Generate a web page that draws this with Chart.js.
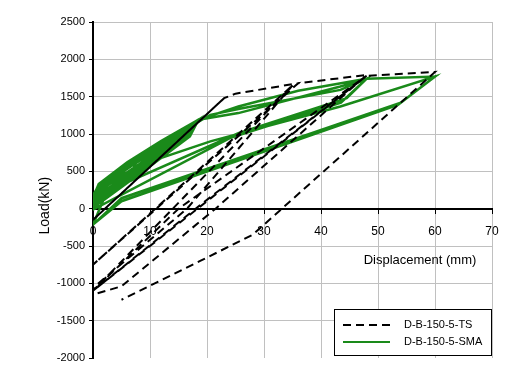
<!DOCTYPE html>
<html>
<head>
<meta charset="utf-8">
<script src="https://cdn.jsdelivr.net/npm/chart.js@4.4.1/dist/chart.umd.min.js"></script>
<style>
  html, body { margin: 0; padding: 0; background: #fff; }
</style>
</head>
<body>
<canvas id="hystCanvas" width="515" height="375"></canvas>
<script>
// axis setup
var xTicks = [0, 10, 20, 30, 40, 50, 60, 70];
var yTicks = [-2000, -1500, -1000, -500, 0, 500, 1000, 1500, 2000, 2500];
var xTitle = 'Displacement (mm)';
var yTitle = 'Load(kN)';
var seriesNames = ['D-B-150-5-TS', 'D-B-150-5-SMA'];

// D-B-150-5-TS (mm, kN), in loading order
var tsDisp = [0, 23, 0, 23, 25, 36, 0, 35, 0, 36, 48, 21.5, 5, 0,
              0, 16.5, 35, 0, 15, 48, 0, 18, 48, 60, 28, 18.8, 5];
var tsLoad = [-150, 1480, -150, 1480, 1540, 1680, -750, 1650, -750, 1680, 1790, 0, -1040, -1150,
              -1060, 0, 1650, -1100, 0, 1780, -1100, 0, 1780, 1830, -350, -700, -1220];

// D-B-150-5-SMA: small cycles first (the thick band), then the 48 mm and 60 mm cycles
var smaDisp = [0, 1, 6, 12, 18.5, 17, 10, 0,
               0, 1, 6, 12, 18, 16.5, 8, 0,
               0, 1, 6, 12, 16, 14.5, 6, 0,
               0, 1, 6, 10, 14, 12.5, 5, 0,
               0, 1, 5, 12, 10.5, 4, 0,
               0, 1, 5, 10, 8.5, 3, 0,
               0, 1, 4, 8, 6.5, 2, 0,
               0, 1, 3, 6, 4.5, 0,
               0, 1, 6, 12, 18, 16.5, 8, 0,
               0, 1, 6, 12, 17, 15.5, 7, 0,
               0, 1, 6, 12, 18.5, 17, 9, 0,
               0, 1, 5, 10, 15, 13.5, 6, 0,
               0, 1, 6, 12, 18.5, 17, 10, 0,
               0, 1, 6, 12, 18.5, 25.5, 36, 48, 43.5, 24, 0,
               1, 5, 10, 15, 20.6, 25.5, 43.4, 48, 44.5, 25.5, 0,
               1, 6, 12, 18.5, 25.5, 43.4, 48, 60, 54, 5, 0,
               2, 5, 12, 20.6, 43.4, 60, 53.5, 5, 0];
var smaLoad = [10, 320, 610, 900, 1190, 968, 567, 10,
               40, 300, 590, 890, 1170, 940, 480, 40,
               60, 290, 580, 870, 1070, 830, 370, 60,
               30, 280, 570, 790, 980, 720, 310, 30,
               80, 270, 530, 890, 620, 260, 80,
               50, 250, 520, 800, 500, 190, 50,
               100, 260, 470, 700, 420, 160, 100,
               20, 240, 420, 600, 300, 20,
               130, 300, 560, 840, 1150, 1000, 560, 130,
               90, 280, 540, 820, 1080, 920, 480, 90,
               180, 310, 600, 860, 1190, 1050, 640, 180,
               60, 260, 480, 740, 1000, 800, 420, 60,
               150, 330, 620, 910, 1190, 1000, 620, 120,
               120, 330, 620, 910, 1190, 1369, 1580, 1740, 1420, 945, -13,
               200, 480, 760, 1010, 1257, 1335, 1591, 1740, 1480, 1010, 150,
               330, 620, 910, 1190, 1280, 1636, 1740, 1770, 1420, 140, -214,
               150, 380, 680, 901, 1369, 1770, 1390, 100, -214];

function toPoints(xs, ys) {
    var pts = [];
    for (var i = 0; i < xs.length; i++) {
        pts.push({x: xs[i], y: ys[i]});
    }
    return pts;
}

var fontFamily = 'Arial, "Liberation Sans", sans-serif';
var gridGray = '#c0c0c0';

// axis titles and boxed legend, drawn Excel style inside the plot
var extrasPlugin = {
    id: 'extras',
    afterDraw: function(chart) {
        var ctx = chart.ctx;
        var area = chart.chartArea;
        var zeroY = chart.scales.y.getPixelForValue(0);
        ctx.save();
        ctx.fillStyle = '#000';
        ctx.font = '13px ' + fontFamily;
        ctx.textAlign = 'center';
        ctx.textBaseline = 'middle';
        ctx.fillText(xTitle, area.right - 72, zeroY + 52);

        ctx.save();
        ctx.translate(45, zeroY - 3);
        ctx.rotate(-Math.PI / 2);
        ctx.font = '14px ' + fontFamily;
        ctx.fillText(yTitle, 0, 0);
        ctx.restore();

        // legend box
        var bx = area.right - 158, by = area.bottom - 49, bw = 158, bh = 47;
        ctx.fillStyle = '#fff';
        ctx.fillRect(bx, by, bw, bh);
        ctx.strokeStyle = '#000';
        ctx.lineWidth = 1;
        ctx.strokeRect(bx + 0.5, by + 0.5, bw - 1, bh - 1);
        ctx.font = '11px ' + fontFamily;
        ctx.textAlign = 'left';
        chart.data.datasets.forEach(function(ds, i) {
            var ly = by + 16 + i * 17;
            ctx.strokeStyle = ds.borderColor;
            ctx.lineWidth = 2;
            ctx.setLineDash(ds.borderDash || []);
            ctx.beginPath();
            ctx.moveTo(bx + 9, ly);
            ctx.lineTo(bx + 56, ly);
            ctx.stroke();
            ctx.setLineDash([]);
            ctx.fillStyle = '#000';
            ctx.fillText(ds.label, bx + 70, ly);
        });
        ctx.restore();
    }
};

var ctx = document.getElementById('hystCanvas').getContext('2d');
window.hystChart = new Chart(ctx, {
    type: 'scatter',
    data: {
        datasets: [{
            label: seriesNames[0],
            data: toPoints(tsDisp, tsLoad),
            showLine: true,
            borderColor: '#000',
            borderWidth: 2,
            borderDash: [8, 5],
            pointRadius: 0,
            tension: 0
        }, {
            label: seriesNames[1],
            data: toPoints(smaDisp, smaLoad),
            showLine: true,
            borderColor: '#1a8a1a',
            borderWidth: 2.5,
            pointRadius: 0,
            tension: 0
        }]
    },
    options: {
        responsive: false,
        animation: false,
        layout: {
            padding: {left: 0, top: 22, right: 23, bottom: 17}
        },
        plugins: {
            legend: {display: false},
            tooltip: {enabled: false}
        },
        scales: {
            x: {
                type: 'linear',
                position: {y: 0},
                min: xTicks[0],
                max: xTicks[xTicks.length - 1],
                afterFit: function(scale) { scale.height = 0; },
                afterBuildTicks: function(scale) {
                    scale.ticks = xTicks.map(function(v) { return {value: v}; });
                },
                ticks: {
                    autoSkip: false,
                    maxRotation: 0,
                    padding: 12,
                    color: '#000',
                    font: {family: '"Liberation Sans Narrow", ' + fontFamily, size: 12},
                    callback: function(v) { return String(v); }
                },
                grid: {
                    color: gridGray,
                    lineWidth: 1,
                    tickLength: 4,
                    tickColor: '#000'
                },
                border: {color: '#000', width: 2}
            },
            y: {
                type: 'linear',
                min: yTicks[0],
                max: yTicks[yTicks.length - 1],
                afterFit: function(scale) { scale.width = 93; },
                afterBuildTicks: function(scale) {
                    scale.ticks = yTicks.map(function(v) { return {value: v}; });
                },
                ticks: {
                    autoSkip: false,
                    padding: 4,
                    color: '#000',
                    font: {family: fontFamily, size: 11},
                    callback: function(v) { return String(v); }
                },
                grid: {
                    color: function(c) {
                        return (c.tick && c.tick.value === yTicks[0]) ? 'rgba(0,0,0,0)' : gridGray;
                    },
                    lineWidth: 1,
                    tickLength: 4,
                    tickColor: '#000'
                },
                border: {color: '#000', width: 2}
            }
        }
    },
    plugins: [extrasPlugin]
});
</script>
</body>
</html>
